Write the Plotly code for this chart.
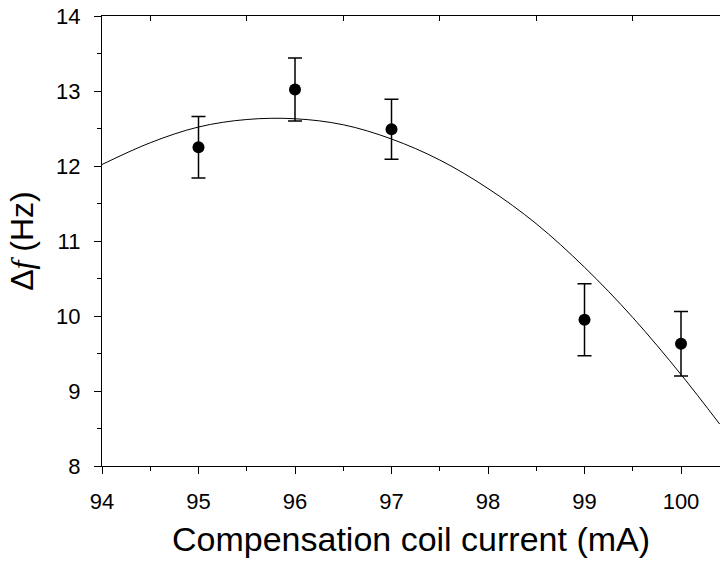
import plotly.graph_objects as go

# Measured data points
current_mA = [95, 96, 97, 99, 100]
delta_f_Hz = [12.25, 13.02, 12.49, 9.95, 9.63]
delta_f_err = [0.41, 0.42, 0.40, 0.48, 0.43]

# Fit curve, values
fit_x = [94.0, 94.5, 95.0, 95.5, 96.0, 96.5, 97.0, 97.5, 98.0, 98.5, 99.0, 99.5, 100.0, 100.4]
fit_y = [12.02, 12.31, 12.52, 12.62, 12.63, 12.55, 12.36, 12.08, 11.70, 11.23, 10.65, 9.98, 9.22, 8.56]

x_ticks = [94, 95, 96, 97, 98, 99, 100]
y_ticks = [8, 9, 10, 11, 12, 13, 14]
top_minor_ticks = [94.5, 95.5, 96.5, 97.5, 98.5, 99.5]

FONT = "Liberation Sans, Arial, Helvetica, sans-serif"
XR = [94, 100.404]

fig = go.Figure()
fig.add_trace(go.Scatter(
    x=fit_x, y=fit_y, mode="lines", line=dict(color="black", width=1, shape="spline"),
    showlegend=False, hoverinfo="skip"))
fig.add_trace(go.Scatter(
    x=current_mA, y=delta_f_Hz, mode="markers",
    marker=dict(color="black", size=12),
    error_y=dict(type="data", array=delta_f_err, visible=True, color="black", thickness=1.5, width=7),
    showlegend=False))
# invisible trace to activate the top axis
fig.add_trace(go.Scatter(x=[XR[0]], y=[8], xaxis="x2", mode="markers",
                         marker=dict(opacity=0), showlegend=False, hoverinfo="skip"))

fig.update_layout(
    width=720, height=563,
    margin=dict(l=102, r=0, t=16, b=97),
    paper_bgcolor="white", plot_bgcolor="white",
    font=dict(family=FONT, color="black", size=22),
    xaxis=dict(
        range=XR, tickvals=x_ticks, ticks="outside", ticklen=7, tickwidth=1.3, tickcolor="black",
        showline=True, linecolor="black", linewidth=1.3, showgrid=False, zeroline=False,
        minor=dict(dtick=0.5, tick0=94, ticks="outside", ticklen=4, tickwidth=1.3, tickcolor="black"),
        tickfont=dict(size=22, family=FONT), ticklabelstandoff=8,
        title=dict(text="Compensation coil current (mA)", font=dict(size=34, family=FONT), standoff=14),
    ),
    xaxis2=dict(
        range=XR, overlaying="x", side="top", anchor="y", tickvals=top_minor_ticks,
        ticks="inside", ticklen=5, tickwidth=1.3, tickcolor="black", showticklabels=False,
        showline=True, linecolor="black", linewidth=1.3, showgrid=False, zeroline=False,
    ),
    yaxis=dict(
        range=[8, 14], tickvals=y_ticks, ticks="outside", ticklen=7, tickwidth=1.3, tickcolor="black",
        showline=True, linecolor="black", linewidth=1.3, showgrid=False, zeroline=False,
        minor=dict(dtick=0.5, tick0=8, ticks="outside", ticklen=4, tickwidth=1.3, tickcolor="black"),
        tickfont=dict(size=22, family=FONT), ticklabelstandoff=9,
        title=dict(text="Δ<i><span style='font-family:Liberation Serif'>f</span></i> (Hz)",
                   font=dict(size=32, family=FONT), standoff=12),
    ),
)

fig.write_html("out.html")
